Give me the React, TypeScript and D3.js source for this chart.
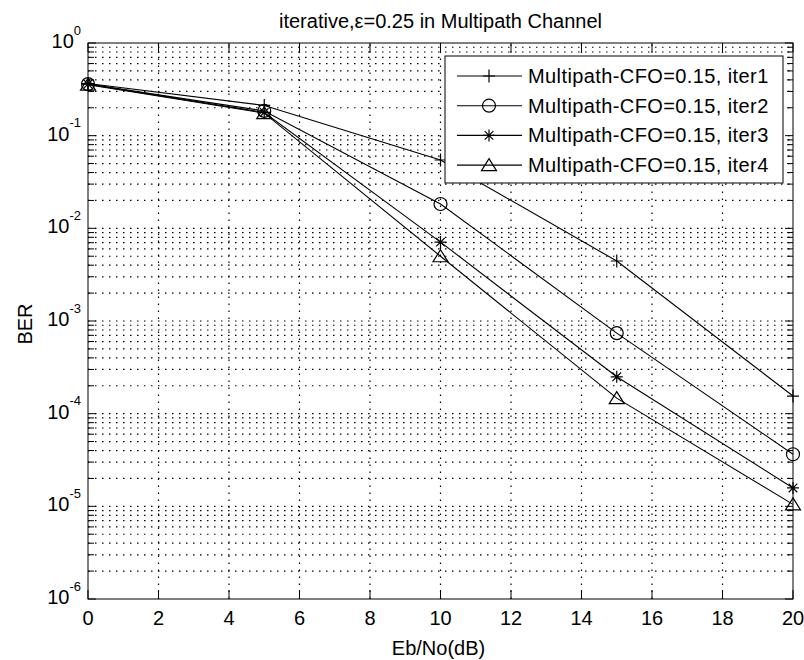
import React, { useEffect, useRef } from "react";
import * as d3 from "d3";

// Eb/No points and BER per iteration
const ebno = [0, 5, 10, 15, 20];
const iter1 = [0.365, 0.212, 0.0546, 0.00444, 1.55e-4];
const iter2 = [0.36, 0.185, 0.0183, 7.4e-4, 3.65e-5];
const iter3 = [0.36, 0.178, 0.0071, 2.5e-4, 1.58e-5];
const iter4 = [0.355, 0.175, 0.005, 1.47e-4, 1.05e-5];

const seriesNames = [
  "Multipath-CFO=0.15, iter1",
  "Multipath-CFO=0.15, iter2",
  "Multipath-CFO=0.15, iter3",
  "Multipath-CFO=0.15, iter4",
];
const markerKinds = ["plus", "circle", "star", "triangle"];

const xTicks = [0, 2, 4, 6, 8, 10, 12, 14, 16, 18, 20];
const yExponents = [0, -1, -2, -3, -4, -5, -6];

const titleText = "iterative,\u03b5=0.25 in Multipath Channel";
const xLabel = "Eb/No(dB)";
const yLabel = "BER";

const FONT = "'Liberation Sans', Arial, Helvetica, sans-serif";

const markerPath = (kind: string) => {
  if (kind === "plus") return "M-6,0H6M0,-6.5V6.5";
  if (kind === "star") return "M-6,0H6M0,-6V6M-4.3,-4.3L4.3,4.3M-4.3,4.3L4.3,-4.3";
  if (kind === "triangle") return "M0,-6.5L7.5,5.5L-7.5,5.5Z";
  return d3.arc()({ innerRadius: 0, outerRadius: 6.5, startAngle: 0, endAngle: 2 * Math.PI } as any) as string;
};

const Chart = () => {
  const svgRef = useRef<SVGSVGElement>(null);

  useEffect(() => {
    const width = 804;
    const height = 660;
    const left = 88, right = 793, top = 43, bottom = 599;

    const x = d3.scaleLinear().domain([0, 20]).range([left, right]);
    const y = d3.scaleLog().domain([1e-6, 1]).range([bottom, top]);

    const svg = d3.select(svgRef.current)
      .attr("width", width)
      .attr("height", height)
      .style("font-family", FONT);

    svg.selectAll("*").remove();

    svg.append("rect").attr("width", width).attr("height", height).attr("fill", "#fff");

    // grid
    const grid = svg.append("g")
      .attr("stroke", "#000")
      .attr("stroke-width", 1.2)
      .attr("stroke-dasharray", "1.5,5.5");

    xTicks.slice(1, -1).forEach(t => {
      grid.append("line")
        .attr("x1", x(t)).attr("x2", x(t))
        .attr("y1", bottom).attr("y2", top);
    });

    const minorVals: number[] = [];
    const majorVals: number[] = [];
    yExponents.forEach(e => {
      majorVals.push(Math.pow(10, e));
      if (e < 0) {
        for (let m = 2; m <= 9; m++) minorVals.push(m * Math.pow(10, e));
      }
    });

    [...majorVals.slice(1, -1), ...minorVals].forEach(v => {
      grid.append("line")
        .attr("x1", left).attr("x2", right)
        .attr("y1", y(v)).attr("y2", y(v));
    });

    // axes frame and ticks
    const axes = svg.append("g").attr("stroke", "#000").attr("stroke-width", 1).attr("fill", "none");
    axes.append("rect")
      .attr("x", left).attr("y", top)
      .attr("width", right - left).attr("height", bottom - top);

    xTicks.forEach(t => {
      axes.append("line").attr("x1", x(t)).attr("x2", x(t)).attr("y1", bottom).attr("y2", bottom - 9);
      axes.append("line").attr("x1", x(t)).attr("x2", x(t)).attr("y1", top).attr("y2", top + 9);
    });

    majorVals.forEach(v => {
      axes.append("line").attr("x1", left).attr("x2", left + 8).attr("y1", y(v)).attr("y2", y(v));
      axes.append("line").attr("x1", right).attr("x2", right - 8).attr("y1", y(v)).attr("y2", y(v));
    });
    minorVals.forEach(v => {
      axes.append("line").attr("x1", left).attr("x2", left + 6).attr("y1", y(v)).attr("y2", y(v));
      axes.append("line").attr("x1", right).attr("x2", right - 6).attr("y1", y(v)).attr("y2", y(v));
    });

    // tick labels
    xTicks.forEach(t => {
      svg.append("text")
        .attr("x", x(t)).attr("y", 625)
        .attr("text-anchor", "middle")
        .attr("font-size", 20)
        .text(t);
    });

    yExponents.forEach(e => {
      const txt = svg.append("text")
        .attr("x", 81).attr("y", y(Math.pow(10, e)) + 5)
        .attr("text-anchor", "end")
        .attr("font-size", 20);
      txt.append("tspan").text("10");
      txt.append("tspan").attr("dy", -13.5).attr("font-size", 13).text(String(e));
    });

    // labels
    svg.append("text")
      .attr("x", (left + right) / 2).attr("y", 28)
      .attr("text-anchor", "middle").attr("font-size", 20)
      .text(titleText);

    svg.append("text")
      .attr("x", (left + right) / 2 - 2).attr("y", 655)
      .attr("text-anchor", "middle").attr("font-size", 20)
      .text(xLabel);

    svg.append("text")
      .attr("transform", `translate(32,${(top + bottom) / 2 + 3}) rotate(-90)`)
      .attr("text-anchor", "middle").attr("font-size", 20)
      .text(yLabel);

    // series
    const allSeries = [iter1, iter2, iter3, iter4];
    const line = d3.line<number>()
      .x((d, i) => x(ebno[i]))
      .y(d => y(d));

    allSeries.forEach((vals, si) => {
      svg.append("path")
        .datum(vals)
        .attr("fill", "none")
        .attr("stroke", "#000")
        .attr("stroke-width", 1.1)
        .attr("d", line);

      svg.append("g").selectAll("path")
        .data(vals)
        .join("path")
        .attr("transform", (d, i) => `translate(${x(ebno[i])},${y(d)})`)
        .attr("d", markerPath(markerKinds[si]))
        .attr("fill", "none")
        .attr("stroke", "#000")
        .attr("stroke-width", 1.2);
    });

    // legend
    const lg = svg.append("g");
    lg.append("rect")
      .attr("x", 445).attr("y", 56)
      .attr("width", 783 - 445).attr("height", 183 - 56)
      .attr("fill", "#fff").attr("stroke", "#000").attr("stroke-width", 1);

    seriesNames.forEach((name, i) => {
      const ly = 76 + i * 29.7;
      lg.append("line")
        .attr("x1", 457).attr("x2", 522)
        .attr("y1", ly).attr("y2", ly)
        .attr("stroke", "#000").attr("stroke-width", 1.1);
      lg.append("path")
        .attr("transform", `translate(489,${ly})`)
        .attr("d", markerPath(markerKinds[i]))
        .attr("fill", "none").attr("stroke", "#000").attr("stroke-width", 1.2);
      lg.append("text")
        .attr("x", 528).attr("y", ly + 7)
        .attr("font-size", 20)
        .attr("letter-spacing", 0.4)
        .text(name);
    });
  }, []);

  return <svg ref={svgRef}></svg>;
};

export default function App() {
  return (
    <div style={{ position: "absolute", left: 0, top: 0 }}>
      <Chart />
    </div>
  );
}
